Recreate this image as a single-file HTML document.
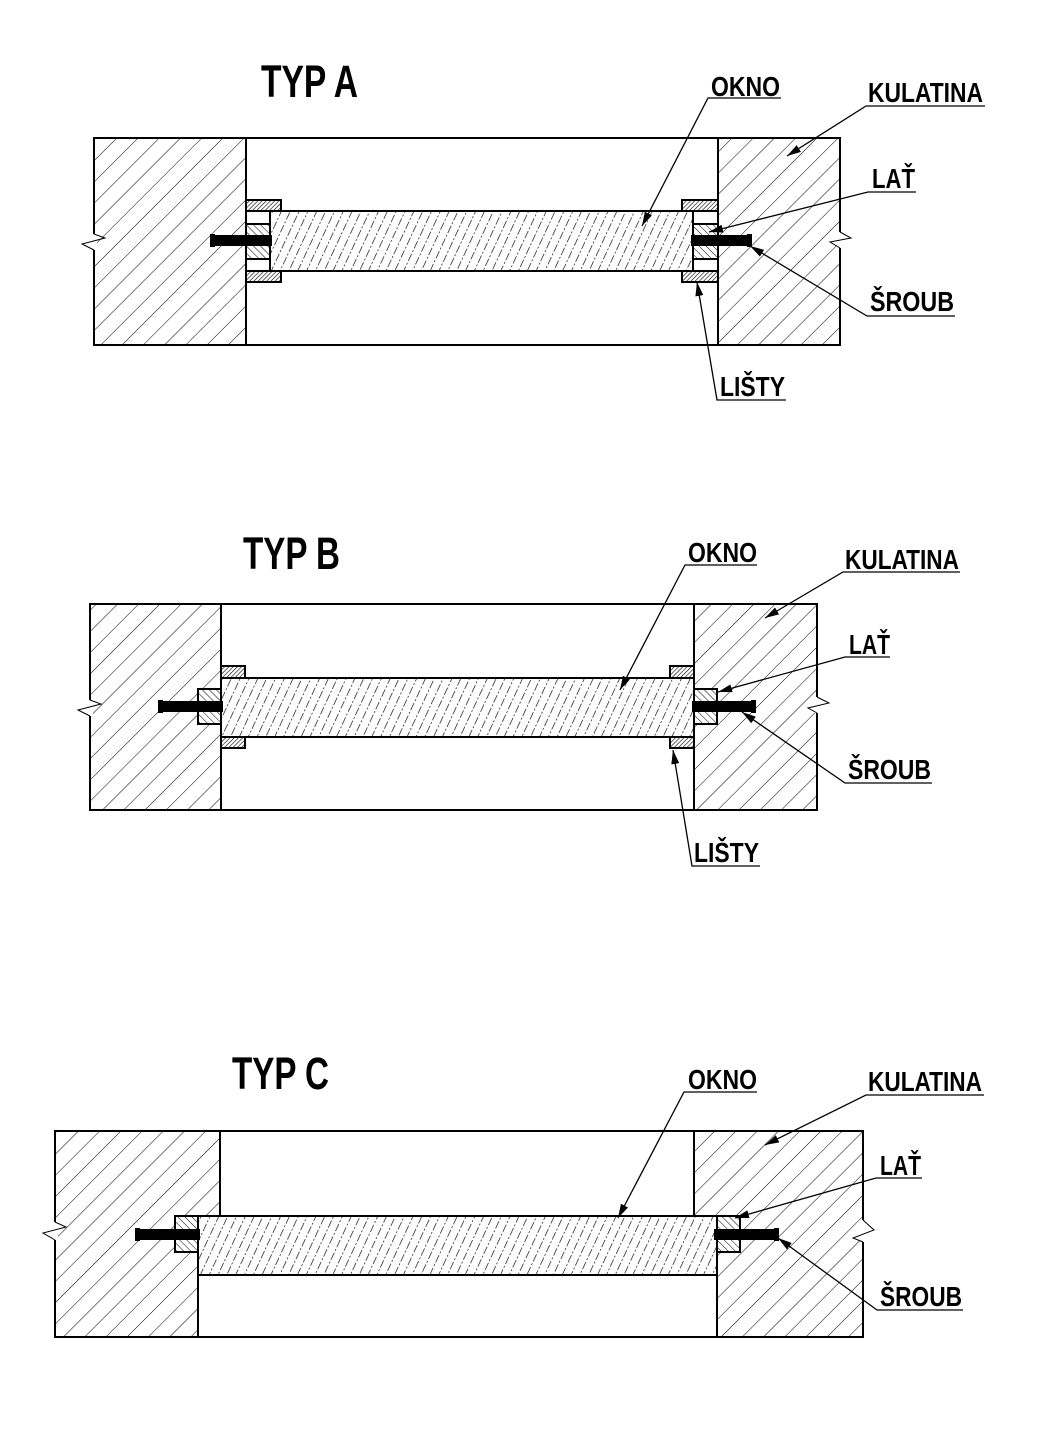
<!DOCTYPE html>
<html><head><meta charset="utf-8"><style>
html,body{margin:0;padding:0;background:#fff}
svg{display:block}
text{font-family:"Liberation Sans",sans-serif;font-weight:bold;fill:#000}
</style></head><body>
<svg width="1064" height="1434" viewBox="0 0 1064 1434" xmlns="http://www.w3.org/2000/svg">
<defs>
<pattern id="wall" width="15" height="15" patternUnits="userSpaceOnUse" patternTransform="rotate(45)">
<rect width="15" height="15" fill="#fff"/><line x1="0" y1="0" x2="0" y2="15" stroke="#000" stroke-width="1"/>
</pattern>
<pattern id="glass" width="8" height="14" patternUnits="userSpaceOnUse" patternTransform="rotate(25)">
<rect width="8" height="14" fill="#fff"/><line x1="0" y1="0" x2="0" y2="8" stroke="#000" stroke-width="1.3"/><line x1="0" y1="10" x2="0" y2="12" stroke="#000" stroke-width="1.3"/>
</pattern>
<pattern id="lat" width="5" height="5" patternUnits="userSpaceOnUse" patternTransform="rotate(-45)">
<rect width="5" height="5" fill="#fff"/><line x1="0" y1="0" x2="0" y2="5" stroke="#000" stroke-width="1"/>
</pattern>
<pattern id="list" width="3" height="3" patternUnits="userSpaceOnUse" patternTransform="rotate(45)">
<rect width="3" height="3" fill="#fff"/><line x1="0" y1="0" x2="0" y2="3" stroke="#000" stroke-width="1.2"/>
</pattern>
<marker id="ar" markerWidth="14" markerHeight="8" refX="14" refY="4" orient="auto" markerUnits="userSpaceOnUse">
<path d="M0,0 L14,4 L0,8 Z" fill="#000"/>
</marker>
</defs>

<g stroke="#000" stroke-width="2">
<line x1="246" y1="138" x2="718" y2="138"/>
<line x1="246" y1="345" x2="718" y2="345"/>
<rect x="94" y="138" width="152" height="207" fill="url(#wall)"/>
<rect x="718" y="138" width="122" height="207" fill="url(#wall)"/>
<rect x="270" y="211" width="423" height="60" fill="url(#glass)"/>
<rect x="246" y="200" width="35" height="11" fill="url(#list)"/>
<rect x="246" y="271" width="35" height="11" fill="url(#list)"/>
<rect x="682" y="200" width="36" height="11" fill="url(#list)"/>
<rect x="682" y="271" width="36" height="11" fill="url(#list)"/>
<rect x="246" y="211" width="24" height="60" fill="#fff"/>
<rect x="246" y="224" width="24" height="35" fill="url(#lat)"/>
<rect x="693" y="211" width="25" height="60" fill="#fff"/>
<rect x="693" y="224" width="25" height="35" fill="url(#lat)"/>
</g>
<rect x="212" y="235" width="60" height="11" fill="#000"/><rect x="210" y="234" width="5" height="13" fill="#000"/>
<rect x="691" y="235" width="60" height="11" fill="#000"/><rect x="747" y="234" width="5" height="13" fill="#000"/>
<rect x="92" y="234" width="5" height="16" fill="#fff"/>
<polyline points="94,234 105,238 82,244 94,250" fill="none" stroke="#000" stroke-width="1"/>
<rect x="837" y="232" width="6" height="16" fill="#fff"/>
<polyline points="840,232 851,238 830,242 840,248" fill="none" stroke="#000" stroke-width="1"/>

<g stroke="#000" stroke-width="2">
<line x1="221" y1="604" x2="694" y2="604"/>
<line x1="221" y1="810" x2="694" y2="810"/>
<rect x="90" y="604" width="131" height="206" fill="url(#wall)"/>
<rect x="694" y="604" width="123" height="206" fill="url(#wall)"/>
<rect x="221" y="678" width="473" height="59" fill="url(#glass)"/>
<rect x="221" y="666" width="24" height="12" fill="url(#list)"/>
<rect x="221" y="737" width="24" height="11" fill="url(#list)"/>
<rect x="670" y="666" width="24" height="12" fill="url(#list)"/>
<rect x="670" y="737" width="24" height="11" fill="url(#list)"/>
<rect x="198" y="689" width="23" height="35" fill="url(#lat)"/>
<rect x="694" y="689" width="23" height="35" fill="url(#lat)"/>
</g>
<rect x="160" y="701" width="63" height="11" fill="#000"/><rect x="158" y="700" width="5" height="13" fill="#000"/>
<rect x="692" y="701" width="63" height="11" fill="#000"/><rect x="751" y="700" width="5" height="13" fill="#000"/>
<rect x="88" y="700" width="5" height="16" fill="#fff"/>
<polyline points="90,700 101,704 78,710 90,716" fill="none" stroke="#000" stroke-width="1"/>
<rect x="814" y="697" width="6" height="16" fill="#fff"/>
<polyline points="817,697 829,703 808,708 817,713" fill="none" stroke="#000" stroke-width="1"/>

<g stroke="#000" stroke-width="2">
<line x1="220" y1="1131" x2="694" y2="1131"/>
<line x1="198" y1="1337" x2="717" y2="1337"/>
<polygon points="55,1131 220,1131 220,1216 198,1216 198,1337 55,1337" fill="url(#wall)"/>
<polygon points="694,1131 863,1131 863,1337 717,1337 717,1216 694,1216" fill="url(#wall)"/>
<rect x="198" y="1216" width="519" height="59" fill="url(#glass)"/>
<rect x="175" y="1216" width="23" height="36" fill="url(#lat)"/>
<rect x="717" y="1216" width="23" height="36" fill="url(#lat)"/>
</g>
<rect x="137" y="1229" width="63" height="11" fill="#000"/><rect x="135" y="1228" width="5" height="13" fill="#000"/>
<rect x="714" y="1229" width="64" height="11" fill="#000"/><rect x="774" y="1228" width="5" height="13" fill="#000"/>
<rect x="53" y="1222" width="5" height="18" fill="#fff"/>
<polyline points="55,1222 66,1227 43,1233 55,1240" fill="none" stroke="#000" stroke-width="1"/>
<rect x="860" y="1220" width="6" height="22" fill="#fff"/>
<polyline points="863,1220 874,1230 853,1238 863,1242" fill="none" stroke="#000" stroke-width="1"/>

<text x="261" y="97" font-size="45" textLength="97" lengthAdjust="spacingAndGlyphs">TYP A</text>
<text x="243" y="569" font-size="45" textLength="97" lengthAdjust="spacingAndGlyphs">TYP B</text>
<text x="232" y="1089" font-size="45" textLength="97" lengthAdjust="spacingAndGlyphs">TYP C</text>

<g font-size="28">
<text x="711" y="96" textLength="69" lengthAdjust="spacingAndGlyphs">OKNO</text>
<text x="868" y="102" textLength="115" lengthAdjust="spacingAndGlyphs">KULATINA</text>
<text x="872" y="188" textLength="43" lengthAdjust="spacingAndGlyphs">LAŤ</text>
<text x="870" y="311" textLength="84" lengthAdjust="spacingAndGlyphs">ŠROUB</text>
<text x="720" y="396" textLength="65" lengthAdjust="spacingAndGlyphs">LIŠTY</text>

<text x="688" y="562" textLength="69" lengthAdjust="spacingAndGlyphs">OKNO</text>
<text x="845" y="569" textLength="114" lengthAdjust="spacingAndGlyphs">KULATINA</text>
<text x="849" y="654" textLength="41" lengthAdjust="spacingAndGlyphs">LAŤ</text>
<text x="848" y="779" textLength="83" lengthAdjust="spacingAndGlyphs">ŠROUB</text>
<text x="694" y="862" textLength="65" lengthAdjust="spacingAndGlyphs">LIŠTY</text>

<text x="688" y="1089" textLength="69" lengthAdjust="spacingAndGlyphs">OKNO</text>
<text x="868" y="1091" textLength="114" lengthAdjust="spacingAndGlyphs">KULATINA</text>
<text x="880" y="1175" textLength="41" lengthAdjust="spacingAndGlyphs">LAŤ</text>
<text x="880" y="1306" textLength="82" lengthAdjust="spacingAndGlyphs">ŠROUB</text>
</g>

<g stroke="#000" stroke-width="1.3" fill="none">
<polyline points="781,98 708,98 642,226" marker-end="url(#ar)"/>
<polyline points="985,106 866,106 787,156" marker-end="url(#ar)"/>
<polyline points="916,192 868,192 709,232" marker-end="url(#ar)"/>
<polyline points="955,316 867,316 750,246" marker-end="url(#ar)"/>
<polyline points="786,400 717,400 697,282" marker-end="url(#ar)"/>

<polyline points="757,565 685,565 620,690" marker-end="url(#ar)"/>
<polyline points="960,572 843,572 765,618" marker-end="url(#ar)"/>
<polyline points="890,657 845,657 718,692" marker-end="url(#ar)"/>
<polyline points="932,783 845,783 742,712" marker-end="url(#ar)"/>
<polyline points="760,866 692,866 673,750" marker-end="url(#ar)"/>

<polyline points="757,1092 684,1092 618,1218" marker-end="url(#ar)"/>
<polyline points="984,1095 866,1095 765,1145" marker-end="url(#ar)"/>
<polyline points="922,1178 876,1178 735,1218" marker-end="url(#ar)"/>
<polyline points="963,1310 877,1310 778,1238" marker-end="url(#ar)"/>
</g>
</svg>
</body></html>
